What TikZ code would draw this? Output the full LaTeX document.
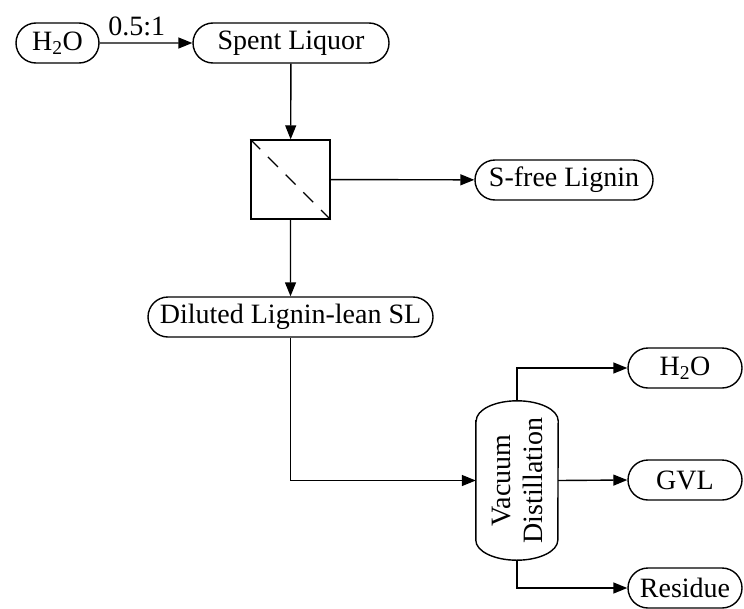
\documentclass[tikz,border=0pt]{standalone}
\usepackage{fontspec}
\setmainfont{Liberation Serif}
\usetikzlibrary{shapes.misc,arrows.meta}
\begin{document}
\begin{tikzpicture}[x=1pt,y=-1pt,
  every node/.style={font=\fontsize{28}{32}\selectfont, inner sep=0pt},
  stream/.style={draw, line width=1.4pt, rounded rectangle, minimum height=40pt},
  conn/.style={line width=1.4pt, -{Triangle[length=14pt,width=11pt]}},
  plain/.style={line width=1.4pt}]
\useasboundingbox (0,0) rectangle (744,608);
\node[stream, minimum width=83pt] (h2oin) at (57.5,43) {H\textsubscript{2}O};
\node[stream, minimum width=196pt] (spent) at (291,43) {Spent Liquor};
\node[draw, line width=1.4pt, minimum width=79pt, minimum height=79pt] (filt) at (290.5,179.5) {};
\draw[line width=1.4pt, dash pattern=on 14pt off 11pt] (filt.north west) -- (filt.south east);
\node[stream, minimum width=178pt] (sfree) at (564,180) {S-free Lignin};
\node[stream, minimum width=285pt] (dil) at (290.5,317) {Diluted Lignin-lean SL};
\node[minimum width=82pt, minimum height=159pt] (vd) at (517,480.5) {};
\draw[plain] ([yshift=-20pt]vd.north west) -- ([yshift=20pt]vd.south west)
  arc[start angle=180, end angle=360, x radius=41pt, y radius=20pt]
  -- ([yshift=-20pt]vd.north east)
  arc[start angle=0, end angle=180, x radius=41pt, y radius=20pt] -- cycle;
\node[rotate=90, align=center] (vdtext) at (vd.center) {Vacuum\\Distillation};
\node[stream, minimum width=114pt] (h2oout) at (685,368) {H\textsubscript{2}O};
\node[stream, minimum width=114pt] (gvl) at (685,480) {GVL};
\node[stream, minimum width=114pt] (res) at (685,588) {Residue};
\draw[conn] (h2oin) -- node[pos=0.4, above=6pt] (ratio) {0.5:1} (spent);
\draw[conn] (spent) -- (filt);
\draw[conn] (filt) -- (sfree);
\draw[conn] (filt) -- (dil);
\coordinate (bend) at (dil.south |- vd.west);
\draw[conn] (dil.south) -- (bend) -- (vd.west);
\draw[conn] (vd.north) |- (h2oout.west);
\draw[conn] (vd.east) -- (gvl.west);
\draw[conn] (vd.south) |- (res.west);
\end{tikzpicture}
\end{document}
